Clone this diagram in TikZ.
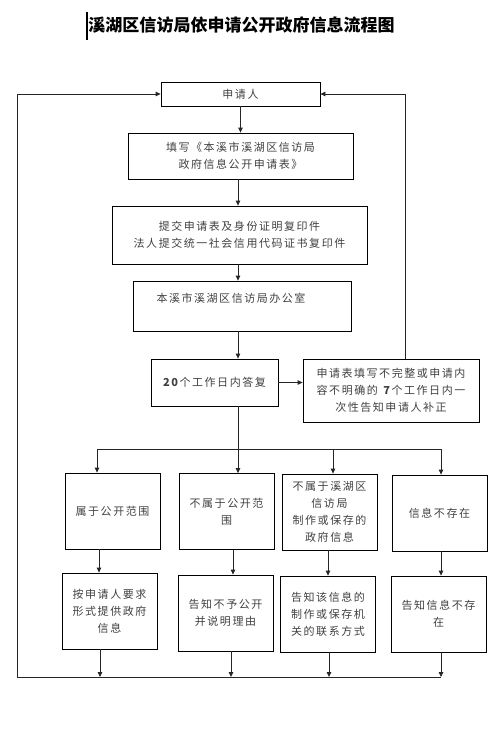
\documentclass[tikz,border=0pt]{standalone}
\usepackage{fontspec}
\newfontfamily\cjk[LetterSpace=14]{Noto Sans CJK SC}
\newfontfamily\cjktitle{Noto Sans CJK SC}
\usetikzlibrary{arrows.meta}
\begin{document}
\begin{tikzpicture}[x=1bp, y=-1bp,
  box/.style={draw=black, line width=0.8bp, align=center, inner sep=0pt, text=black!75,
    font=\cjk\fontsize{11bp}{17bp}\selectfont, minimum width=95bp, minimum height=76bp},
  arr/.style={draw=black!85, line width=0.8bp, -{Triangle[length=5bp,width=4.5bp]}},
  ln/.style={draw=black!85, line width=0.8bp}]
\useasboundingbox (0,0) rectangle (500,736);

\node[font=\cjktitle\bfseries\fontsize{17bp}{20bp}\selectfont] (title) at (241.5,25) {溪湖区信访局依申请公开政府信息流程图};
\draw[line width=1.5bp] (87,12) -- (87,40);

\node[box, minimum width=159bp, minimum height=24bp] (n01) at (240.5,94) {申请人};
\node[box, minimum width=225bp, minimum height=46bp] (n02) at (240.5,156) {填写《本溪市溪湖区信访局\\政府信息公开申请表》};
\node[box, minimum width=255bp, minimum height=58bp] (n03) at (239.5,235) {提交申请表及身份证明复印件\\法人提交统一社会信用代码证书复印件};
\node[box, minimum width=218bp, minimum height=50bp] (n04) at (242,306) {本溪市溪湖区信访局办公室\hspace*{22bp}\\\mbox{}};
\node[box, minimum width=127bp, minimum height=47bp] (n05) at (214.5,382.5) {\textbf{20}个工作日内答复};
\node[box, minimum width=176bp, minimum height=63bp] (n06) at (391,390.5) {申请表填写不完整或申请内\\容不明确的 \textbf{7}个工作日内一\\次性告知申请人补正};

\node[box] (n11) at (112.5,511) {属于公开范围};
\node[box] (n12) at (226.5,511.5) {不属于公开范\\围};
\node[box] (n13) at (329.5,512) {不属于溪湖区\\信访局\\制作或保存的\\政府信息};
\node[box] (n14) at (439.5,513) {信息不存在};

\node[box] (n21) at (109.5,611) {按申请人要求\\形式提供政府\\信息};
\node[box] (n22) at (225.5,613) {告知不予公开\\并说明理由};
\node[box] (n23) at (328,614) {告知该信息的\\制作或保存机\\关的联系方式};
\node[box] (n24) at (438.5,614) {告知信息不存\\在};

\coordinate (split) at (238,449);
\coordinate (bl) at (97,449);
\coordinate (bc) at (333,449);
\coordinate (br) at (441,449);
\coordinate (bot) at (17,677);

\draw[arr] (n01) -- (n02);
\draw[arr] (n02.south -| split) -- (n03.north -| split);
\draw[arr] (n03.south -| split) -- (n04.north -| split);
\draw[arr] (n04.south -| split) -- (n05.north -| split);
\draw[arr] (n05.east) -- (n05.east -| n06.west);
\draw[arr] ([xshift=14bp]n06.north) |- (n01.east);

\draw[ln] (n05.south -| split) -- (split);
\draw[ln] (bl) -- (br);
\draw[arr] (bl) -- (bl |- n11.north);
\draw[arr] (split) -- (split |- n12.north);
\draw[arr] (bc) -- (bc |- n13.north);
\draw[arr] (br) -- (br |- n14.north);

\foreach \a/\b/\x in {n11/n21/99, n12/n22/233, n13/n23/328, n14/n24/441}
  \draw[arr] (\x,0 |- \a.south) -- (\x,0 |- \b.north);
\foreach \b/\x in {n21/100, n22/231, n23/329, n24/441}
  \draw[arr] (\x,0 |- \b.south) -- (\x,0 |- bot);

\draw[arr] (441,0 |- bot) -- (bot) |- (n01.west);
\end{tikzpicture}
\end{document}
